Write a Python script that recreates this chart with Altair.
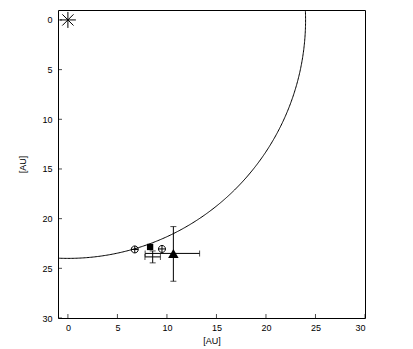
import altair as alt
import numpy as np
import pandas as pd

# --- data ---
radius_au = 24.0
star_x = [0.0]
star_y = [0.0]
oplus_x = [6.75, 9.5]
oplus_y = [23.1, 23.05]
sq_x = [8.3]
sq_y = [22.85]
cross_x = [8.56]
cross_y = [23.85]
cross_xerr = [0.78]
cross_yerr = [0.6]
tri_x = [10.65]
tri_y = [23.5]
tri_xlo = [7.8]
tri_xhi = [13.3]
tri_ylo = [20.8]
tri_yhi = [26.3]
tick_values = [0, 5, 10, 15, 20, 25, 30]

W, H = 307, 308
dom = [-1, 30]

xs = alt.Scale(domain=dom, nice=False, zero=False)
ys = alt.Scale(domain=dom, nice=False, zero=False, reverse=True)

font = "Liberation Sans"
xaxis = alt.Axis(values=tick_values, title="[AU]", grid=False, domain=False, ticks=False,
                 labelFontSize=9, titleFontSize=9, titleFontWeight="normal", labelFont=font,
                 titleFont=font, labelColor="black", titleColor="black", labelPadding=5, titlePadding=4)
yaxis = alt.Axis(values=tick_values, title="[AU]", grid=False, domain=False, ticks=False,
                 labelFontSize=9, titleFontSize=9, titleFontWeight="normal", labelFont=font,
                 titleFont=font, labelColor="black", titleColor="black", labelPadding=6, titlePadding=14)

# arc
t = np.deg2rad(np.linspace(-4, 94, 300))
arc = pd.DataFrame({"x": radius_au * np.cos(t), "y": radius_au * np.sin(t), "i": np.arange(len(t))})

base_x = alt.X("x:Q", scale=xs, axis=xaxis)
base_y = alt.Y("y:Q", scale=ys, axis=yaxis)

arc_layer = alt.Chart(arc).mark_line(color="black", strokeWidth=1, clip=True).encode(
    x=base_x, y=base_y, order="i:Q")

star_path = "M-1,0L1,0M0,-1L0,1M-0.7,-0.7L0.7,0.7M-0.7,0.7L0.7,-0.7"
star = alt.Chart(pd.DataFrame({"x": star_x, "y": star_y})).mark_point(
    shape=star_path, size=256, color="black", strokeWidth=1, filled=False, opacity=1).encode(
    x=alt.X("x:Q", scale=xs), y=alt.Y("y:Q", scale=ys))

oplus_path = "M-1,0A1,1 0 1,1 1,0A1,1 0 1,1 -1,0ZM-1,0L1,0M0,-1L0,1"
oplus = alt.Chart(pd.DataFrame({"x": oplus_x, "y": oplus_y})).mark_point(
    shape=oplus_path, size=49, color="black", strokeWidth=1, filled=False, opacity=1).encode(
    x=alt.X("x:Q", scale=xs), y=alt.Y("y:Q", scale=ys))

sq = alt.Chart(pd.DataFrame({"x": sq_x, "y": sq_y})).mark_point(
    shape="square", size=40, color="black", filled=True, opacity=1).encode(
    x=alt.X("x:Q", scale=xs), y=alt.Y("y:Q", scale=ys))

tri = alt.Chart(pd.DataFrame({"x": tri_x, "y": tri_y})).mark_point(
    shape="triangle-up", size=110, color="black", filled=True, opacity=1).encode(
    x=alt.X("x:Q", scale=xs), y=alt.Y("y:Q", scale=ys))

# error bars
eb = pd.DataFrame({
    "x": cross_x + tri_x,
    "y": cross_y + tri_y,
    "xlo": [cross_x[0] - cross_xerr[0], tri_xlo[0]],
    "xhi": [cross_x[0] + cross_xerr[0], tri_xhi[0]],
    "ylo": [cross_y[0] - cross_yerr[0], tri_ylo[0]],
    "yhi": [cross_y[0] + cross_yerr[0], tri_yhi[0]],
})
hbar = alt.Chart(eb).mark_rule(color="black", strokeWidth=1).encode(
    x=alt.X("xlo:Q", scale=xs), x2="xhi:Q", y=alt.Y("y:Q", scale=ys))
vbar = alt.Chart(eb).mark_rule(color="black", strokeWidth=1).encode(
    y=alt.Y("ylo:Q", scale=ys), y2="yhi:Q", x=alt.X("x:Q", scale=xs))
caps_l = alt.Chart(eb).mark_tick(color="black", orient="vertical", size=6, thickness=1).encode(
    x=alt.X("xlo:Q", scale=xs), y=alt.Y("y:Q", scale=ys))
caps_r = alt.Chart(eb).mark_tick(color="black", orient="vertical", size=6, thickness=1).encode(
    x=alt.X("xhi:Q", scale=xs), y=alt.Y("y:Q", scale=ys))
caps_t = alt.Chart(eb).mark_tick(color="black", orient="horizontal", size=6, thickness=1).encode(
    y=alt.Y("ylo:Q", scale=ys), x=alt.X("x:Q", scale=xs))
caps_b = alt.Chart(eb).mark_tick(color="black", orient="horizontal", size=6, thickness=1).encode(
    y=alt.Y("yhi:Q", scale=ys), x=alt.X("x:Q", scale=xs))

# inward axis ticks
tk = pd.DataFrame({"v": tick_values})
xticks = alt.Chart(tk).mark_tick(color="black", orient="vertical", size=4, thickness=1).encode(
    x=alt.X("v:Q", scale=xs), y=alt.value(H - 2))
yticks = alt.Chart(tk).mark_tick(color="black", orient="horizontal", size=4, thickness=1).encode(
    y=alt.Y("v:Q", scale=ys), x=alt.value(2))

chart = alt.layer(arc_layer, hbar, vbar, caps_l, caps_r, caps_t, caps_b, star, oplus, sq, tri,
                  xticks, yticks).properties(
    width=W, height=H,
    autosize=alt.AutoSizeParams(type="none"),
    padding={"left": 50, "top": 2, "right": 30, "bottom": 31},
).configure(background="white").configure_view(stroke="black", strokeWidth=1)

chart.save("out.html", embed_options={"renderer": "svg", "actions": False})
